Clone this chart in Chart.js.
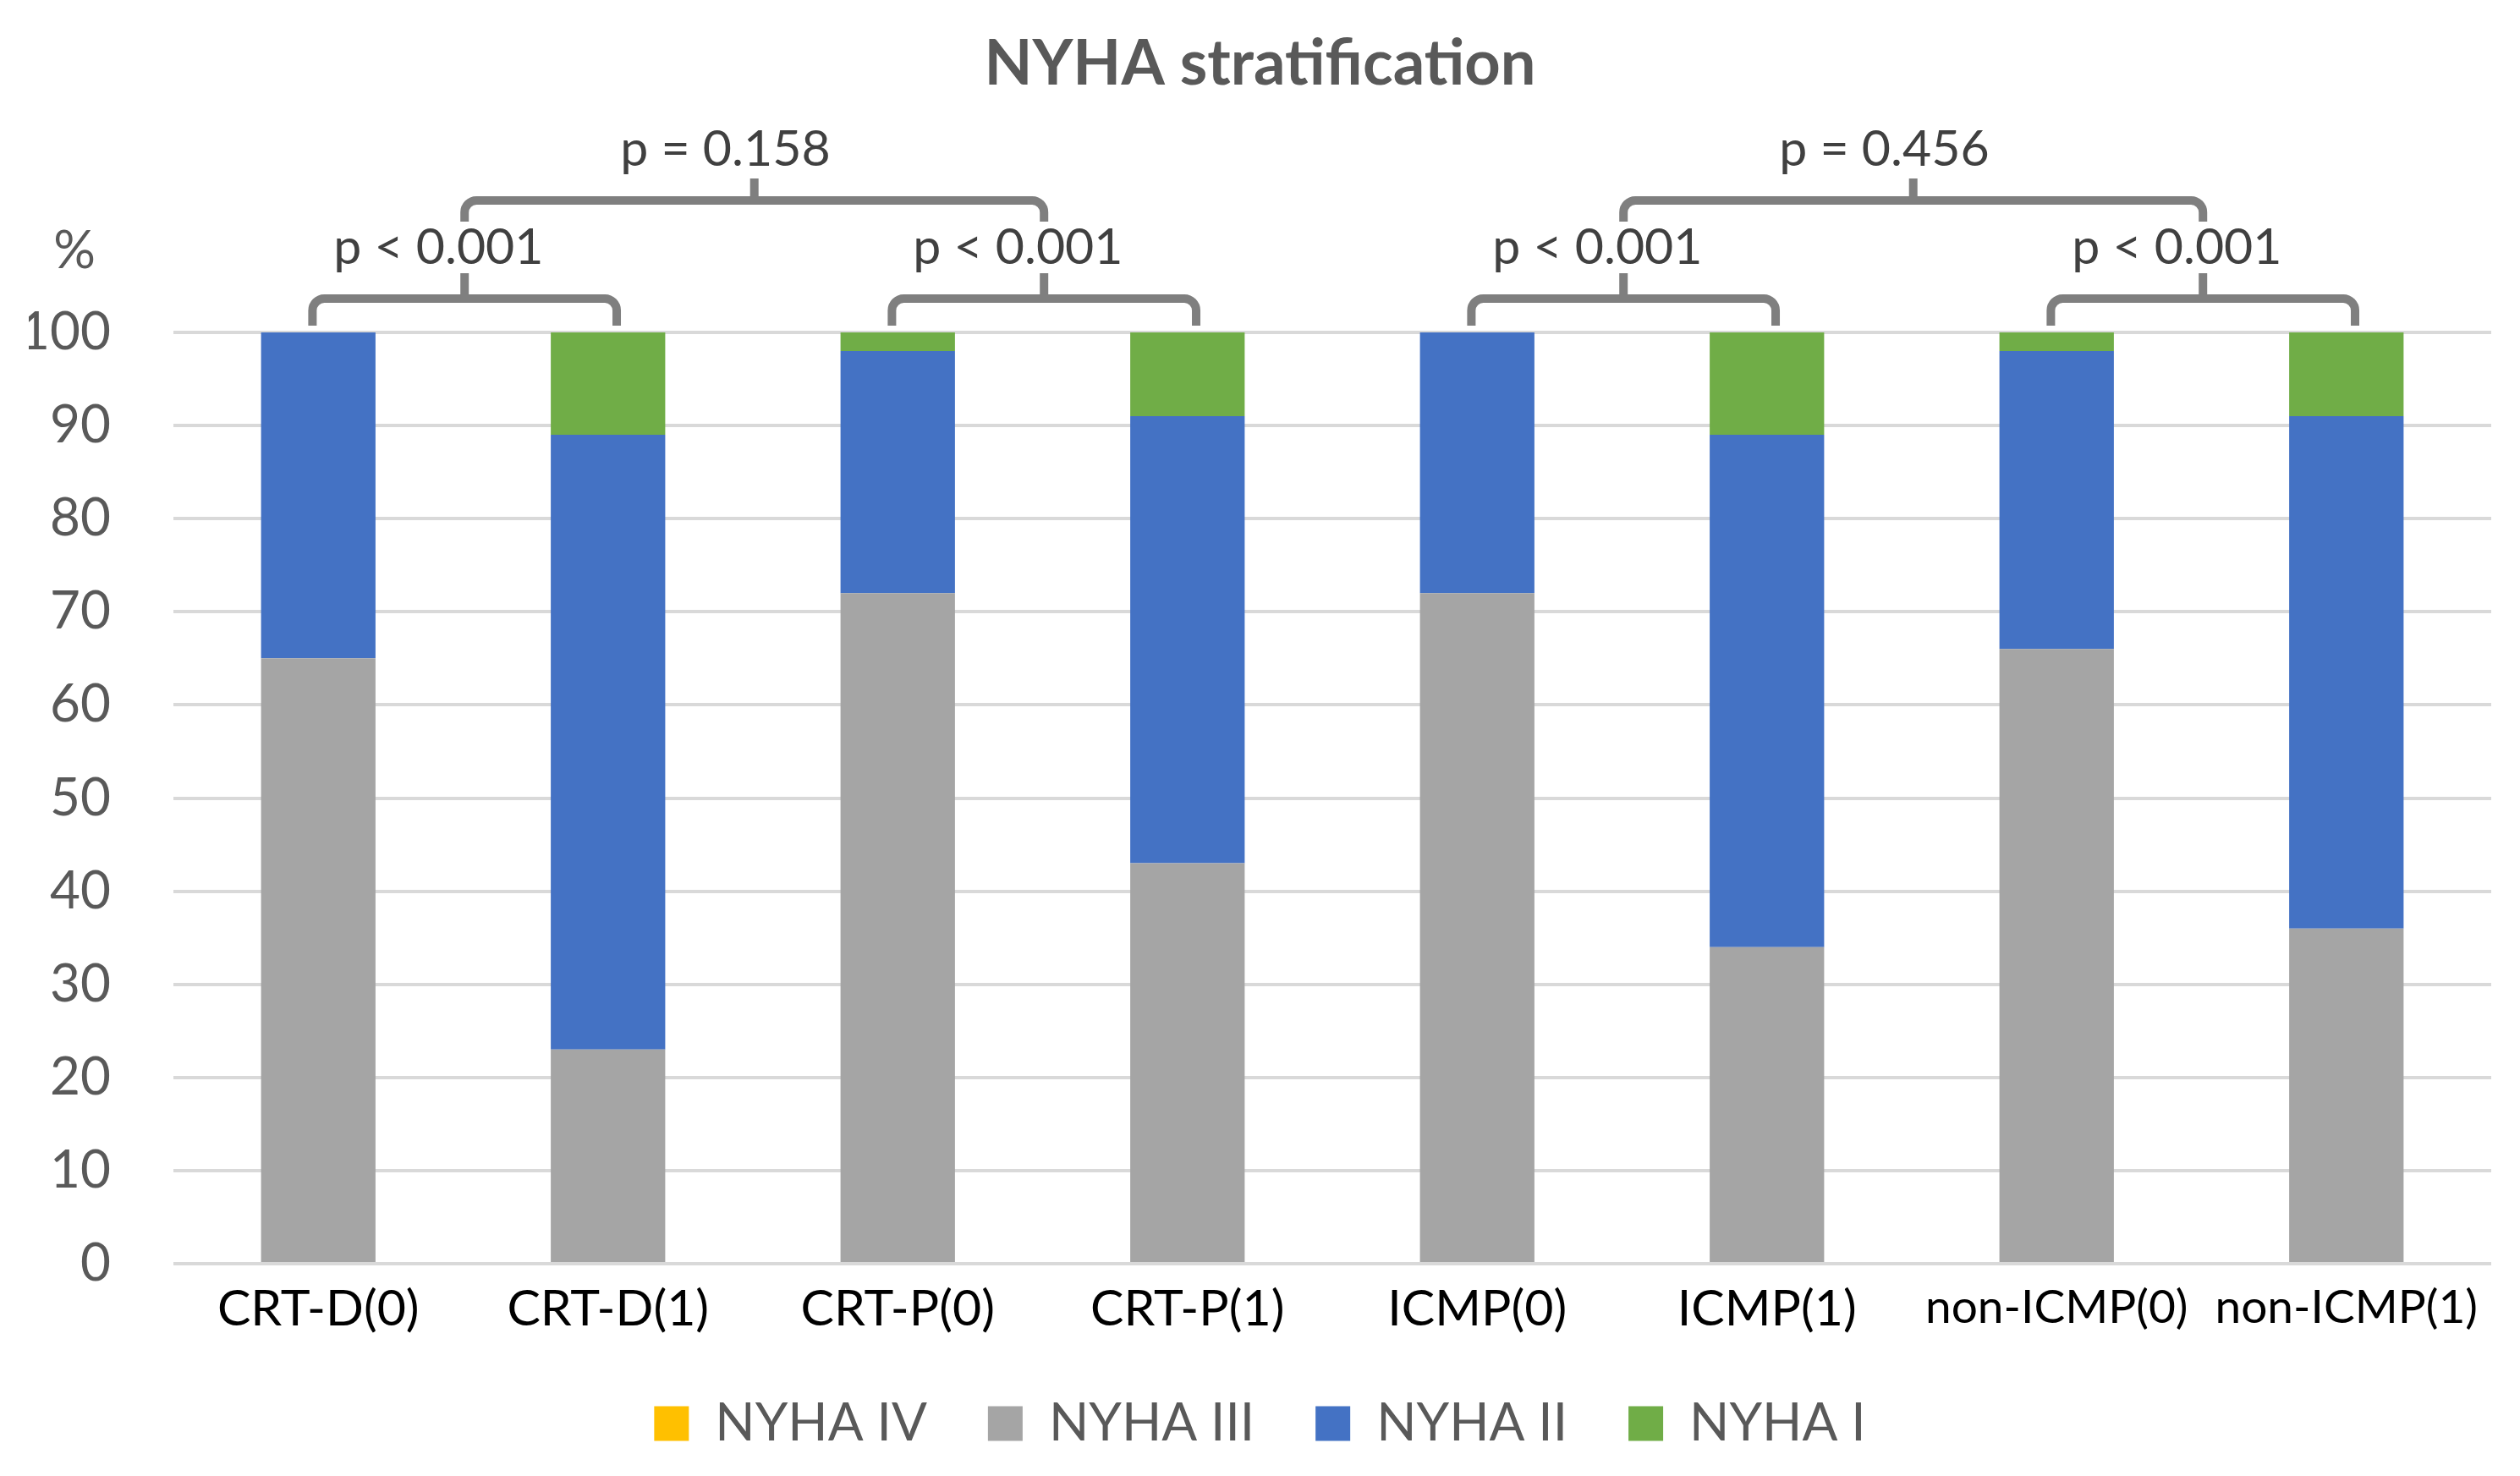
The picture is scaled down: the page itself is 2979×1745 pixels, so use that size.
<!DOCTYPE html>
<html>
<head>
<meta charset="utf-8">
<script src="https://cdn.jsdelivr.net/npm/chart.js@4.4.1/dist/chart.umd.min.js"></script>
<style>
  html, body { margin: 0; padding: 0; background: #ffffff; }
  #wrap { width: 2979px; height: 1745px; position: relative; }
</style>
</head>
<body>
<div id="wrap"><canvas id="c"></canvas></div>
<script>
// ---- data ----
const categories = ['CRT-D(0)', 'CRT-D(1)', 'CRT-P(0)', 'CRT-P(1)', 'ICMP(0)', 'ICMP(1)', 'non-ICMP(0)', 'non-ICMP(1)'];
const nyhaIV  = [0, 0, 0, 0, 0, 0, 0, 0];
const nyhaIII = [65, 23, 72, 43, 72, 34, 66, 36];
const nyhaII  = [35, 66, 26, 48, 28, 55, 32, 55];
const nyhaI   = [0, 11, 2, 9, 0, 11, 2, 9];
const seriesNames = ['NYHA IV', 'NYHA III', 'NYHA II', 'NYHA I'];
const yTicks = [0, 10, 20, 30, 40, 50, 60, 70, 80, 90, 100];
const pairIndex = [[0, 1], [2, 3], [4, 5], [6, 7]];
const pairLabels = ['p < 0.001', 'p < 0.001', 'p < 0.001', 'p < 0.001'];
const groupPairs = [[0, 1], [2, 3]];
const groupLabels = ['p = 0.158', 'p = 0.456'];
const chartTitle = 'NYHA stratification';
const yUnit = '%';

const FONT = 'Lato, "Open Sans", "Liberation Sans", sans-serif';
const colors = ['#FFC000', '#A5A5A5', '#4472C4', '#70AD47'];

const bracketPlugin = {
  id: 'brackets',
  afterDatasetsDraw(chart) {
    const { ctx, chartArea, scales: { x } } = chart;
    const catW = x.getPixelForValue(1) - x.getPixelForValue(0);
    const top = chartArea.top;
    ctx.save();
    ctx.strokeStyle = '#7F7F7F';
    ctx.lineWidth = 10;
    ctx.lineCap = 'butt';
    ctx.lineJoin = 'round';
    const r = 14;
    function bracket(xl, xr, yLeg, yH, yTick) {
      ctx.beginPath();
      ctx.moveTo(xl, yLeg);
      ctx.lineTo(xl, yH + r);
      ctx.arcTo(xl, yH, xl + r, yH, r);
      ctx.lineTo(xr - r, yH);
      ctx.arcTo(xr, yH, xr, yH + r, r);
      ctx.lineTo(xr, yLeg);
      ctx.stroke();
      const xm = (xl + xr) / 2;
      ctx.beginPath();
      ctx.moveTo(xm, yH);
      ctx.lineTo(xm, yTick);
      ctx.stroke();
      return xm;
    }
    ctx.font = '59px ' + FONT;
    ctx.fillStyle = '#404040';
    ctx.textAlign = 'center';
    ctx.textBaseline = 'middle';
    const mids = [];
    pairIndex.forEach((p, k) => {
      const xl = x.getPixelForValue(p[0]) - 0.02 * catW;
      const xr = x.getPixelForValue(p[1]) + 0.03 * catW;
      const xm = bracket(xl, xr, top - 8, top - 40, top - 70);
      mids.push(xm);
      ctx.fillText(pairLabels[k], xm - 0.09 * catW, top - 100);
    });
    groupPairs.forEach((g, k) => {
      const xl = mids[g[0]];
      const xr = mids[g[1]];
      const xm = bracket(xl, xr, top - 131, top - 156, top - 182);
      ctx.fillText(groupLabels[k], xm - 0.1 * catW, top - 216);
    });
    // unit label above the y axis
    ctx.font = '62px ' + FONT;
    ctx.fillStyle = '#595959';
    ctx.fillText(yUnit, chartArea.left - 117, top - 96);
    ctx.restore();
  }
};

const ctxEl = document.getElementById('c');
new Chart(ctxEl, {
  type: 'bar',
  data: {
    labels: categories,
    datasets: [nyhaIV, nyhaIII, nyhaII, nyhaI].map((d, i) => ({
      label: seriesNames[i],
      data: d,
      backgroundColor: colors[i],
      borderWidth: 0,
      barPercentage: 0.395,
      categoryPercentage: 1.0
    }))
  },
  options: {
    responsive: true,
    maintainAspectRatio: false,
    animation: false,
    devicePixelRatio: 1,
    layout: { padding: { top: 0, right: 34, bottom: 21, left: 34 } },
    plugins: {
      tooltip: { enabled: false },
      title: {
        display: true,
        text: chartTitle,
        color: '#595959',
        font: { family: FONT, size: 74, weight: 'bold', lineHeight: 1.2 },
        padding: { top: 32, bottom: 272.2 }
      },
      legend: {
        display: true,
        position: 'bottom',
        labels: {
          color: '#595959',
          font: { family: FONT, size: 62 },
          boxWidth: 41,
          boxHeight: 41,
          padding: 72
        }
      }
    },
    scales: {
      x: {
        stacked: true,
        grid: { display: false, drawTicks: false },
        border: { display: false },
        ticks: {
          color: '#000000',
          padding: 19,
          maxRotation: 0,
          autoSkip: false,
          font: (c) => ({ family: FONT, size: (categories[c.index] || '').startsWith('non') ? 55 : 59 })
        },
        afterFit: (s) => { s.height = 86; }
      },
      y: {
        stacked: true,
        min: 0,
        max: 100,
        afterBuildTicks: (s) => { s.ticks = yTicks.map(v => ({ value: v })); },
        grid: { color: '#D9D9D9', lineWidth: 4, drawTicks: false },
        border: { display: false },
        ticks: {
          color: '#595959',
          padding: 74,
          font: { family: FONT, size: 62 }
        },
        afterFit: (s) => { s.width = 171; }
      }
    }
  },
  plugins: [bracketPlugin]
});
</script>
</body>
</html>
